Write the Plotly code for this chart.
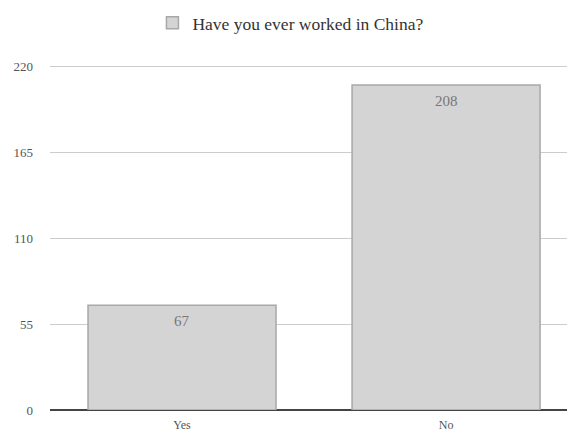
import plotly.graph_objects as go

categories = ["Yes", "No"]
values = [67, 208]
series_name = "Have you ever worked in China?"
y_ticks = [0, 55, 110, 165, 220]

FONT = "Times New Roman, Liberation Serif, DejaVu Serif, serif"

fig = go.Figure()
fig.add_trace(go.Bar(
    x=categories, y=values, name=series_name,
    marker=dict(color="#d4d4d4", line=dict(color="#a8a8a8", width=1.5)),
    width=0.712, showlegend=True,
))
for c, v in zip(categories, values):
    fig.add_annotation(x=c, y=v, text=str(v), showarrow=False, yanchor="top",
                       yshift=-6, font=dict(family=FONT, size=15, color="#777777"))

fig.update_layout(
    width=567, height=432,
    margin=dict(l=50, r=0, t=63, b=22),
    plot_bgcolor="white", paper_bgcolor="white",
    font=dict(family=FONT, size=12, color="#555555"),
    showlegend=True,
    legend=dict(orientation="h", x=0.466, xanchor="center", y=0.947, yanchor="middle",
                yref="container", font=dict(family=FONT, size=17.5, color="#333333"),
                itemclick=False),
    xaxis=dict(range=[-0.5, 1.458], showgrid=False, ticks="", showline=False,
               tickfont=dict(family=FONT, size=12, color="#555555"), automargin=False,
               ticklabelstandoff=6, fixedrange=True),
    yaxis=dict(range=[0, 222], tickvals=y_ticks, showgrid=True, gridcolor="#cccccc",
               gridwidth=1, zeroline=True, zerolinecolor="#444444", zerolinewidth=2,
               ticks="", showline=False, automargin=False, ticklabelstandoff=16,
               tickfont=dict(family=FONT, size=13, color="#555555")),
)
fig.write_html("out.html")
